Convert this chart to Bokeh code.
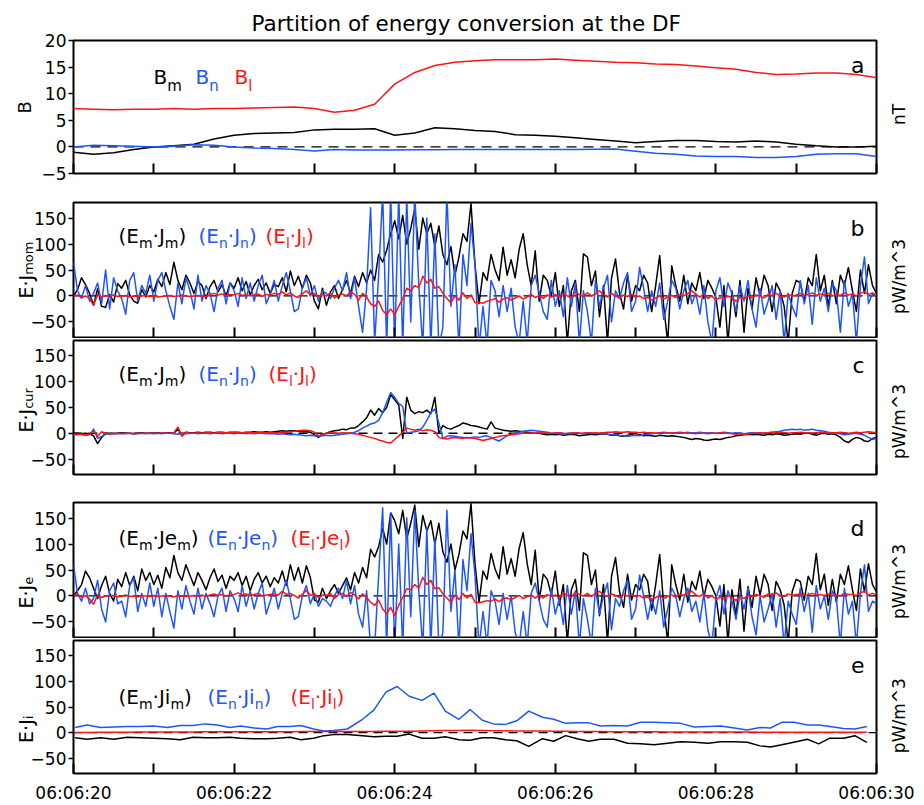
import math
from bokeh.plotting import figure
from bokeh.models import Range1d, FixedTicker, Span, Label, LinearAxis, Title
from bokeh.layouts import column
from bokeh.embed import file_html
from bokeh.resources import INLINE

FONT = "DejaVu Sans"
BLACK = "#000000"
BLUE = "#1f55ff"
RED = "#ff1414"

title_text = "Partition of energy conversion at the DF"
x_tick_seconds = [0, 2, 4, 6, 8, 10]
x_minor_seconds = [1, 3, 5, 7, 9]
x_tick_labels = ["06:06:20", "06:06:22", "06:06:24", "06:06:26", "06:06:28", "06:06:30"]
b_ticks = [-5, 0, 5, 10, 15, 20]
p_ticks = [-50, 0, 50, 100, 150]
panel_letters = ["a", "b", "c", "d", "e"]

B_step = 0.25
B_m = [-1.0, -1.4, -1.1, -0.5, 0.0, 0.2, 0.5, 1.5, 2.2, 2.5, 2.6, 2.7, 3.2, 3.3, 3.3, 3.4,
       2.2, 2.6, 3.6, 3.4, 3.1, 2.9, 2.3, 2.2, 2.0, 1.7, 1.4, 1.1, 0.8, 1.0, 1.2, 1.2,
       1.0, 0.9, 1.1, 0.9, 0.5, 0.2, 0.0, 0.0, 0.1]
B_n = [0.0, 0.3, 0.2, 0.1, 0.0, 0.1, 0.4, 0.3, 0.0, -0.2, -0.3, -0.5, -0.75, -0.5, -0.6, -0.6,
       -0.6, -0.55, -0.55, -0.5, -0.5, -0.5, -0.5, -0.5, -0.5, -0.5, -0.45, -0.4, -0.8, -1.2,
       -1.4, -1.7, -1.8, -1.8, -2.0, -2.0, -1.8, -1.4, -1.3, -1.3, -1.8]
B_l = [7.2, 7.1, 7.0, 7.1, 7.1, 7.2, 7.1, 7.2, 7.2, 7.3, 7.4, 7.5, 7.2, 6.5, 6.9, 8.0,
       11.8, 14.0, 15.3, 15.9, 16.2, 16.4, 16.4, 16.4, 16.5, 16.3, 16.1, 15.9, 15.8, 15.6,
       15.5, 15.2, 14.9, 14.6, 14.0, 13.6, 13.7, 13.9, 13.9, 13.6, 13.0]

fast_step = 0.05
EJmom_m = [0, 12, 35, 22, 5, -18, 14, -20, -22, 3,
           -12, 24, 15, 30, 2, -10, -14, 12, -2, 20,
           8, 32, 18, 45, 22, 65, 30, 12, 40, 25,
           5, 28, 20, -5, 18, 30, 8, 22, 0, 25,
           15, 35, 10, 28, 2, 20, 32, 12, 25, 5,
           22, 18, 35, 8, 48, 20, 38, 15, 40, 25,
           -10, -25, 15, -18, 8, 20, -5, 12, 30, 5,
           38, 18, 45, 25, 50, 30, 80, 65, 88, 120,
           145, 110, 155, 100, 130, 168, 90, 150, 120, 140,
           95, 135, 80, 60, 95, 40, 75, 120, 105, 178,
           60, -15, 45, 30, 80, 50, 30, 94, 40, 70,
           35, 90, 120, 60, 20, 87, -10, 40, 30, 0,
           45, -20, 20, -90, 10, 30, -30, 81, 75, 20,
           48, -40, 20, -90, 35, 71, 5, -25, 40, -10,
           20, 10, 40, 25, -30, 20, 78, -20, -90, 58,
           20, -10, 40, -15, 25, 10, 45, -5, 30, 15,
           -3, -60, 20, -90, 10, -40, 30, -70, 15, -25,
           35, 0, 40, 20, -30, 25, 10, -20, -90, 5,
           30, 25, -10, 35, 20, 80, 10, 40, -20, 30,
           -15, 40, 20, 55, 10, -30, 50, 5, 60, 20,
           5]
EJmom_n = [65, 10, -5, 20, -10, 5, 25, -15, 50, -25,
           35, 10, -5, -35, 30, 45, -10, 20, 5, 40,
           -10, 30, 45, 10, -20, -45, 25, -15, 35, 10,
           -25, 40, -10, 20, 5, -30, 15, 30, -15, 25,
           10, -20, 35, -5, 25, -10, 20, 40, -15, 5,
           30, -10, 20, 45, 10, -30, -25, 15, 35, 0,
           20, -10, 10, 5, -5, 15, 30, 10, 45, -5,
           35, -20, -70, 15, 170, -90, 40, 200, -100, 200,
           -100, 200, -100, 190, -50, 200, 20, -100, 150, -100,
           120, -100, -60, 200, -20, 60, -100, 80, 20, 140,
           60, -100, -20, -95, 30, 10, -40, 20, -30, 15,
           -60, -90, -10, -90, 20, 40, 5, -30, -45, 30,
           -20, 10, -40, 35, -20, 25, -90, 10, -30, -90,
           30, -20, 15, 40, -50, 10, -5, 25, 45, -30,
           -10, 55, 15, -30, 10, -20, 25, -45, -10, 30,
           15, -25, 10, 30, -15, 5, -35, 20, -50, -90,
           10, 35, -20, 25, 5, -30, 20, -10, 30, -25,
           -60, 15, -35, -10, 20, -45, 10, -90, 5, -20,
           -40, 30, -15, 20, -55, 35, -10, 15, -30, 25,
           10, -70, 30, -20, 5, -90, 20, 75, -15, 5,
           0]
EJmom_l = [0, 2, -3, 0, -5, -18, 3, -2, 1, 0,
           2, -1, 0, 1, -2, 0, -1, 1, 0, -1,
           0, -2, -1, 0, 1, -1, 0, 2, 0, -1,
           0, 1, 0, -2, 3, 5, 2, 4, 1, 3,
           2, 5, 1, 3, 0, 2, 4, -1, 3, 2,
           5, 3, 8, 2, 6, 0, -3, 4, 10, 2,
           5, -2, 3, 0, 6, -4, 2, 4, 0, 8,
           3, -8, 5, -2, -15, -20, -10, -28, -36, -25,
           -36, -20, -5, 15, 10, 20, 16, 38, 25, 32,
           15, 18, 5, -5, -13, 0, -8, 6, -5, 2,
           -13, -12, -14, -10, -8, -5, -12, -6, -3, -8,
           -4, 0, -6, -2, 3, -3, 1, -5, 2, -2,
           3, -2, 5, 0, -3, 8, 2, -1, 6, 0,
           4, 10, 3, -2, 5, 0, -4, 2, -1, 3,
           -2, 0, -5, -3, -8, -4, 0, -6, -2, 1,
           -3, 2, 0, 5, 10, 3, -2, 4, -5, 0,
           -8, -3, -6, 0, -4, -10, -2, -6, 0, -3,
           2, 0, -4, 3, 1, 5, 0, -2, 3, 0,
           2, 5, 0, 3, 6, 1, 4, 2, 5, 0,
           3, 1, 6, 2, 4, 0, 5, 8, 3, 6,
           2]

EJcur_m = [0, 0, -1, 0, -1, -5, -20, -8, 0, -1,
           0, 0, 1, 0, 0, -1, 0, 1, 0, 0,
           0, 1, 0, 0, 1, 0, 8, -5, 2, 1,
           1, 2, 1, 2, 2, 1, 2, 2, 1, 2,
           2, 2, 1, 2, 2, 3, 2, 2, 3, 2,
           3, 4, 5, 4, 5, 5, 4, 3, 3, 2,
           -3, -8, -2, 0, 3, 5, 6, 8, 7, 10,
           10, 15, 22, 30, 45, 35, 48, 40, 50, 75,
           65, 55, -10, 70, 45, 38, 42, 40, 45, 38,
           70, 0, 15, 10, 8, 12, 15, 20, 18, 15,
           14, 12, 10, 8, 22, 10, 8, 6, 5, 4,
           5, 4, 3, 2, 1, 0, 0, -2, -3, -2,
           -3, -2, -4, -3, -2, -3, -5, -4, -3, -2,
           -3, -2, -1, -2, -4, -3, -5, -6, -4, -3,
           -4, -3, -5, -4, -5, -6, -4, -5, -6, -5,
           -6, -7, -8, -10, -12, -10, -11, -13, -14, -12,
           -11, -12, -10, -8, -7, -5, -4, -3, -2, -3,
           -2, -3, -4, -2, -3, -1, -2, -4, -3, -2,
           -1, -2, 0, 1, -2, -4, -1, 0, -2, -1,
           -3, -8, -15, -18, -12, -8, -10, -15, -16, -10,
           -8]
EJcur_n = [-3, -3, -2, -4, -3, 8, -10, -6, -2, -1,
           -1, -1, 0, -1, 0, -1, -1, 0, -1, 0,
           -1, 0, -1, 0, 0, -1, -2, 0, -1, 0,
           0, -1, 0, 0, -1, 0, 0, -1, 0, 0,
           -1, 0, 0, -1, 0, -1, 0, 0, -1, -1,
           -1, -2, -1, -2, -3, -2, -3, -4, -5, -4,
           -5, -6, -5, -4, -5, -4, -3, -2, -1, 0,
           2, 5, 10, 14, 18, 20, 25, 40, 60, 79,
           70, 58, 52, 0, 2, 3, 5, 12, 25, 40,
           47, 20, -10, -6, -5, -6, -7, -8, -9, -8,
           -7, -8, -6, -5, -8, -12, -15, -10, -5, -2,
           0, 2, 4, 5, 6, 5, 4, 3, 2, 0,
           0, -1, -2, 0, -1, 1, 0, -1, 0, 1,
           0, -1, 0, -2, -3, -2, -4, -5, -6, -5,
           -4, -5, -3, -2, -1, 0, 1, 2, 1, 0,
           1, 2, 1, 2, 0, 1, 2, 1, 0, 1,
           0, 1, 2, 1, 0, 1, 0, -1, 0, 1,
           0, 1, 0, 1, 2, 3, 4, 6, 7, 8,
           7, 8, 6, 7, 8, 6, 5, 4, 2, 1,
           0, -1, -3, -2, -1, 0, -2, -4, -8, -12,
           -10]
EJcur_l = [-2, -2, -2, -3, -2, 5, -6, 3, -1, -1,
           -1, 0, -1, 0, 0, -1, 0, 0, 0, 0,
           0, 0, 0, 0, 0, 1, 12, -5, 2, 0,
           0, 1, 0, 1, 1, 0, 1, 1, 1, 1,
           1, 1, 1, 1, 1, 1, 2, 1, 1, 1,
           1, 1, 2, 2, 3, 4, 5, 6, 6, 5,
           2, -5, -2, 0, 1, 0, 0, 1, 0, 0,
           -1, -2, -4, -6, -8, -10, -13, -15, -18, -19,
           -12, -5, 2, 10, 8, 6, 8, 5, 7, 6,
           3, -8, -10, -11, -9, -8, -9, -10, -8, -9,
           -10, -12, -14, -12, -10, -8, -6, -5, -4, -3,
           -2, -1, 0, 0, 1, 0, 1, 0, 1, 0,
           0, 1, 0, -1, 0, 1, 0, 0, 1, 0,
           1, 0, 1, 2, 2, 3, 2, 2, 3, 2,
           2, 1, 2, 1, 1, 0, 1, 0, 0, 1,
           0, 0, 1, 0, 0, -1, 0, 0, -1, 0,
           0, 1, 0, 0, -1, -2, -1, -2, -1, 0,
           0, 1, 0, 1, 2, 1, 2, 1, 0, 1,
           1, 2, 1, 1, 0, 1, 2, 1, 0, 1,
           1, 2, 1, 0, 1, 2, 1, 2, 3, 2,
           1]

EJe_m = [0, 10, 22, 48, 35, 15, -5, 20, 38, 5,
         -10, 32, 18, 45, 20, 38, 10, 52, 30, 45,
         22, 40, 15, 55, 35, 78, 45, 30, 60, 40,
         20, 45, 30, 12, 35, 52, 28, 40, 15, 38,
         30, 45, 20, 38, 10, 32, 45, 25, 38, 18,
         35, 25, 48, 20, 60, 30, 55, 25, 58, 35,
         -8, -12, 15, -5, 10, 22, 5, 20, 35, 12,
         45, 25, 55, 35, 90, 75, 95, 130, 100, 160,
         145, 120, 165, 110, 140, 175, 95, 155, 125, 145,
         100, 140, 85, 65, 100, 50, 80, 125, 110, 178,
         62, -12, 48, 32, 82, 52, 33, 95, 42, 72,
         38, 92, 122, 62, 22, 88, -8, 42, 32, 2,
         48, -18, 22, -90, 12, 32, -28, 83, 78, 22,
         50, -38, 22, -90, 38, 74, 8, -22, 42, -8,
         22, 12, 42, 28, -28, 22, 80, -18, -90, 60,
         22, -8, 42, -12, 28, 12, 48, -2, 32, 18,
         0, -58, 22, -90, 12, -38, 32, -68, 18, -22,
         38, 2, 42, 22, -28, 28, 12, -18, -90, 8,
         32, 28, -8, 38, 22, 82, 12, 42, -18, 32,
         -12, 42, 22, 58, 12, -28, 52, 8, 62, 22,
         8]
EJe_n = [60, 5, -10, 15, -15, -5, 30, -25, -50, 10,
         25, -15, -10, -40, 20, 35, -30, 5, -20, 25,
         -20, 15, -40, 5, -30, -62, 10, -25, 20, -10,
         -35, 15, -25, 5, -15, -40, 0, 15, -30, 10,
         -5, -30, 20, -20, 10, -25, 5, 25, -35, -10,
         15, -25, 5, 30, -5, -45, -40, 0, 20, -15,
         5, -20, -5, -10, -20, 0, 15, -5, 30, -15,
         20, -35, -60, 10, -100, -100, 40, 170, -100, 160,
         -100, 100, -100, 150, -40, 165, 10, -100, 130, -100,
         110, -100, -70, 165, -30, 50, -100, 70, 10, 120,
         40, -100, -30, -95, 10, -10, -55, 5, -45, 0,
         -70, -95, -30, -95, 5, 25, -10, -45, -60, 15,
         -35, -5, -55, 20, -35, 10, -95, -5, -45, -95,
         15, -35, 0, 25, -65, -5, -20, 10, 30, -45,
         -25, 40, 0, -45, -5, -35, 10, -60, -25, 15,
         0, -40, -5, 15, -30, -10, -50, 5, -65, -95,
         -5, 20, -35, 10, -10, -45, 5, -25, 15, -40,
         -75, 0, -50, -25, 5, -60, -5, -95, -10, -35,
         -55, 15, -30, 5, -70, 20, -25, 0, -45, 10,
         -5, -95, 15, -35, -10, -95, 5, 60, -30, -10,
         -15]
EJe_l = [0, 3, -2, 1, -6, -16, 2, -3, 0, 1,
         1, -2, 0, 2, -1, 0, -2, 1, 0, -1,
         1, -1, 0, 1, 0, -2, 1, 0, -1, 0,
         1, 0, 2, -1, 2, 4, 1, 3, 0, 2,
         3, 6, 2, 4, 1, 3, 5, 0, 2, 3,
         4, 2, 9, 3, 5, 1, -4, 3, 11, 1,
         4, -3, 2, 1, 5, -5, 3, 5, -1, 7,
         2, -6, 4, -3, -12, -18, -8, -25, -34, -22,
         -38, -18, -3, 14, 12, 22, 15, 36, 22, 30,
         14, 16, 4, -4, -12, 2, -7, 5, -4, 3,
         -12, -13, -11, -9, -10, -6, -11, -5, -4, -7,
         -3, 1, -5, -1, 2, -4, 2, -4, 3, -1,
         2, -3, 6, 1, -2, 7, 3, 0, 5, -1,
         5, 9, 2, -1, 4, 1, -3, 3, 0, 2,
         -1, 1, -4, -2, -7, -3, 1, -5, -1, 2,
         -2, 3, 1, 6, 9, 2, -1, 5, -4, 1,
         -7, -2, -5, 1, -3, -9, -1, -5, 1, -2,
         3, 1, -3, 4, 2, 6, 1, -1, 4, 1,
         3, 4, 1, 2, 5, 2, 3, 1, 4, 1,
         2, 0, 5, 3, 3, 1, 6, 9, 2, 5,
         2]

t_ji = [0.02, 0.17, 0.34, 0.5, 0.67, 0.83, 1.0, 1.17, 1.33, 1.49, 1.64, 1.79, 1.95, 2.08,
        2.25, 2.41, 2.54, 2.7, 2.83, 2.99, 3.12, 3.24, 3.41, 3.6, 3.74, 3.89, 4.03, 4.18,
        4.34, 4.49, 4.63, 4.8, 4.94, 5.09, 5.23, 5.38, 5.52, 5.67, 5.84, 5.98, 6.13, 6.27,
        6.42, 6.56, 6.73, 6.9, 7.06, 7.23, 7.4, 7.56, 7.73, 7.9, 8.06, 8.23, 8.39, 8.55,
        8.68, 8.82, 8.97, 9.14, 9.28, 9.42, 9.59, 9.73, 9.88]
EJi_m = [-10, -13, -10, -13, -9, -10, -11, -12, -14, -9, -10, -10, -9, -11, -12, -12, -11,
         -9, -14, -11, -6, -4, -4, -6, -8, -7, -7, -3, -11, -11, -8, -14, -15, -10, -10,
         -14, -16, -27, -12, -17, -6, -12, -17, -13, -13, -21, -22, -24, -21, -18, -19,
         -21, -18, -18, -19, -26, -28, -24, -19, -13, -22, -11, -11, -6, -19]
EJi_n = [10, 15, 10, 11, 12, 12, 13, 10, 14, 14, 17, 15, 10, 13, 9, 7, 12, 12, 14, 7, 3, 4,
         7, 26, 44, 79, 90, 71, 63, 77, 42, 26, 45, 24, 17, 16, 23, 42, 30, 26, 18, 19, 19,
         13, 14, 13, 20, 20, 19, 18, 11, 12, 13, 9, 5, 10, 9, 20, 20, 15, 15, 12, 8, 7, 12]
EJi_l = [0, 0, 0.5, 0.5, 0.5, 1, 1, 1, 1, 1, 1.5, 1.5, 1.5, 1.5, 1.5, 1.5, 1.5, 1.5, 2, 2,
         2, 2, 2, 2, 2, 2.5, 2.5, 2.5, 3, 3.5, 4, 4, 4.5, 4, 3.5, 3.5, 3, 3, 3, 2.5, 2.5,
         2, 2, 2, 1.5, 1.5, 1.5, 1.5, 1, 1, 1, 1, 1, 1, 1, 0.5, 0.5, 0.5, 0.5, 0.5, 0.5,
         0.5, 0.5, 0.5, 0.5]


def times(vals, step):
    return [round(i * step, 3) for i in range(len(vals))]


W = 924
FL, FR = 73, 876
geo = [
    (187, 40, 14, 40, 133, (-5, 20)),
    (151, 15, 1, 202, 135, (-80, 180)),
    (150, 2, 14, 340, 134, (-80, 180)),
    (150, 14, 1, 502, 135, (-80, 180)),
    (167, 2, 31, 640, 134, (-80, 180)),
]

WID = {'(': .390, ')': .390, 'E': .632, 'J': .295, 'm': .974, 'n': .634, 'l': .278,
       'e': .615, 'i': .278, '·': .318, 'B': .686, ' ': .318, 'o': .612, 'c': .550,
       'u': .634, 'r': .411, 'p': .635, 'W': .989, '/': .337, '^': .838, '3': .636,
       'T': .611}


def twidth(s, size):
    return sum(WID.get(c, 0.6) for c in s) * size


def xdata(px):
    return (px - FL) / (FR - FL) * 10.0


def ydata(g, py):
    _, _, _, ftop, fh, (y0, y1) = g
    return y1 - (py - ftop) / fh * (y1 - y0)


def add_label(p, g, px, py, text, size, color, align="left"):
    p.add_layout(Label(x=xdata(px), y=ydata(g, py), text=text, text_font=FONT,
                       text_font_size=f"{size}px", text_color=color, text_align=align,
                       text_baseline="alphabetic"))


def add_pieces(p, g, px, py, pieces, color):
    for txt, size, dy in pieces:
        add_label(p, g, px, py + dy, txt, size, color)
        px += twidth(txt, size)


def side_text_axis(p, g, side, py_tick, text, size, standoff=0):
    """A tick-less axis whose single tick label carries an outside, vertical text."""
    yc = ydata(g, py_tick)
    ax = LinearAxis(ticker=FixedTicker(ticks=[yc], minor_ticks=[]),
                    major_label_overrides={yc: text},
                    major_label_orientation=math.pi / 2,
                    major_tick_in=0, major_tick_out=0, major_tick_line_color=None,
                    minor_tick_line_color=None, axis_line_color=None,
                    major_label_standoff=standoff, major_label_text_font=FONT,
                    major_label_text_font_size=f"{size}px", major_label_text_color="black")
    p.add_layout(ax, side)


def make_fig(i):
    h, bt, bb, ftop, fh, yr = geo[i]
    p = figure(width=W, height=h, output_backend="svg", toolbar_location=None,
               x_range=Range1d(0, 10), y_range=Range1d(*yr),
               min_border_left=FL, min_border_right=W - FR,
               min_border_top=bt, min_border_bottom=bb)
    p.outline_line_color = "black"
    p.outline_line_width = 2
    p.background_fill_color = "white"
    p.border_fill_color = "white"
    p.grid.visible = False
    xa = p.xaxis[0]
    xa.ticker = FixedTicker(ticks=x_tick_seconds, minor_ticks=x_minor_seconds)
    xa.major_tick_in = 10
    xa.major_tick_out = 0
    xa.minor_tick_in = 10
    xa.minor_tick_out = 0
    xa.major_tick_line_width = 2
    xa.minor_tick_line_width = 2
    xa.axis_line_color = None
    if i == 4:
        xa.major_label_overrides = {s: l for s, l in zip(x_tick_seconds, x_tick_labels)}
        xa.major_label_text_font = FONT
        xa.major_label_text_font_size = "17px"
        xa.major_label_text_color = "black"
        xa.major_label_standoff = 9
    else:
        xa.major_label_overrides = {s: "" for s in x_tick_seconds}
        xa.major_label_text_font_size = "0px"
        xa.major_label_standoff = 0
    ya = p.yaxis[0]
    ticks = b_ticks if i == 0 else p_ticks
    ya.ticker = FixedTicker(ticks=ticks, minor_ticks=[])
    ya.major_label_overrides = {t: (str(t) if t >= 0 else "\u2212" + str(-t)) for t in ticks}
    ya.major_tick_out = 5
    ya.major_tick_in = 0
    ya.major_tick_line_width = 1.5
    ya.minor_tick_line_color = None
    ya.axis_line_color = None
    ya.major_label_text_font = FONT
    ya.major_label_text_font_size = "17px"
    ya.major_label_text_color = "black"
    ya.major_label_standoff = 2
    p.add_layout(Span(location=0, dimension="width", line_color="black", line_width=1.3,
                      line_dash="10 7" if i == 0 else "9 6", level="underlay"))
    return p


figs = [make_fig(i) for i in range(5)]

# right-hand unit texts (text starts at the tick and runs upward)
unit_texts = ["nT", "pW/m^3", "pW/m^3", "pW/m^3", "pW/m^3"]
unit_center = [114, 276, 421, 581, 716]
for i, p in enumerate(figs):
    half = twidth(unit_texts[i], 17) / 2
    side_text_axis(p, geo[i], "right", unit_center[i] + half, unit_texts[i], 17, standoff=23)

pa = figs[0]
pa.add_layout(Title(text=title_text, align="left", offset=251 - FL, text_font=FONT,
                    text_font_size="21.5px", text_font_style="normal", text_color="black",
                    standoff=10), "above")
for vals, col in ((B_m, BLACK), (B_n, BLUE), (B_l, RED)):
    pa.line(times(vals, B_step), vals, line_color=col, line_width=1.5, line_join="round")
add_pieces(pa, geo[0], 153, 76, [("B", 20, 0), ("m", 15, 9)], BLACK)
add_pieces(pa, geo[0], 195, 76, [("B", 20, 0), ("n", 15, 9)], BLUE)
add_pieces(pa, geo[0], 234, 76, [("B", 20, 0), ("l", 15, 9)], RED)
# left title "B" (vertical text ending at its tick)
side_text_axis(pa, geo[0], "left", 113 - twidth("B", 18), "B", 18, standoff=14)

series = [
    (EJmom_m, EJmom_n, EJmom_l, None),
    (EJcur_m, EJcur_n, EJcur_l, None),
    (EJe_m, EJe_n, EJe_l, None),
    (EJi_m, EJi_n, EJi_l, t_ji),
]
legend_j = ["J", "J", "Je", "Ji"]
legend_base = [235, 373, 537, 697]
legend_x = [(118, 198, 265), (118, 198, 268), (118, 207, 290), (118, 207, 290)]
ylab_sub = ["mom", "cur", "e", "i"]
ylab_bottom = [298, 432, 608, 743]

for k in range(4):
    p = figs[k + 1]
    g = geo[k + 1]
    m_vals, n_vals, l_vals, tt = series[k]
    for vals, col in ((m_vals, BLACK), (n_vals, BLUE), (l_vals, RED)):
        xs = tt if tt is not None else times(vals, fast_step)
        p.line(xs, vals, line_color=col, line_width=1.5, line_join="round")
    jj = legend_j[k]
    by = legend_base[k]
    for sub, col, x0 in zip(("m", "n", "l"), (BLACK, BLUE, RED), legend_x[k]):
        add_pieces(p, g, x0, by, [("(E", 20, 0), (sub, 14, 7), ("·" + jj, 20, 0),
                                  (sub, 14, 7), (")", 20, 0)], col)
    # left title E·J with its subscript, as two vertical texts on stacked axes
    top_main = ylab_bottom[k] - twidth("E·J", 19)
    top_sub = top_main - twidth(ylab_sub[k], 13)
    side_text_axis(p, g, "left", top_main, "E·J", 19, standoff=1)
    side_text_axis(p, g, "left", top_sub, ylab_sub[k], 13, standoff=-27)

letter_base = [65, 228, 365, 528, 665]
for i, p in enumerate(figs):
    add_label(p, geo[i], 864, letter_base[i], panel_letters[i], 22, "black", align="right")

layout = column(*figs, spacing=0)
open("out.html", "w").write(file_html(layout, INLINE))
